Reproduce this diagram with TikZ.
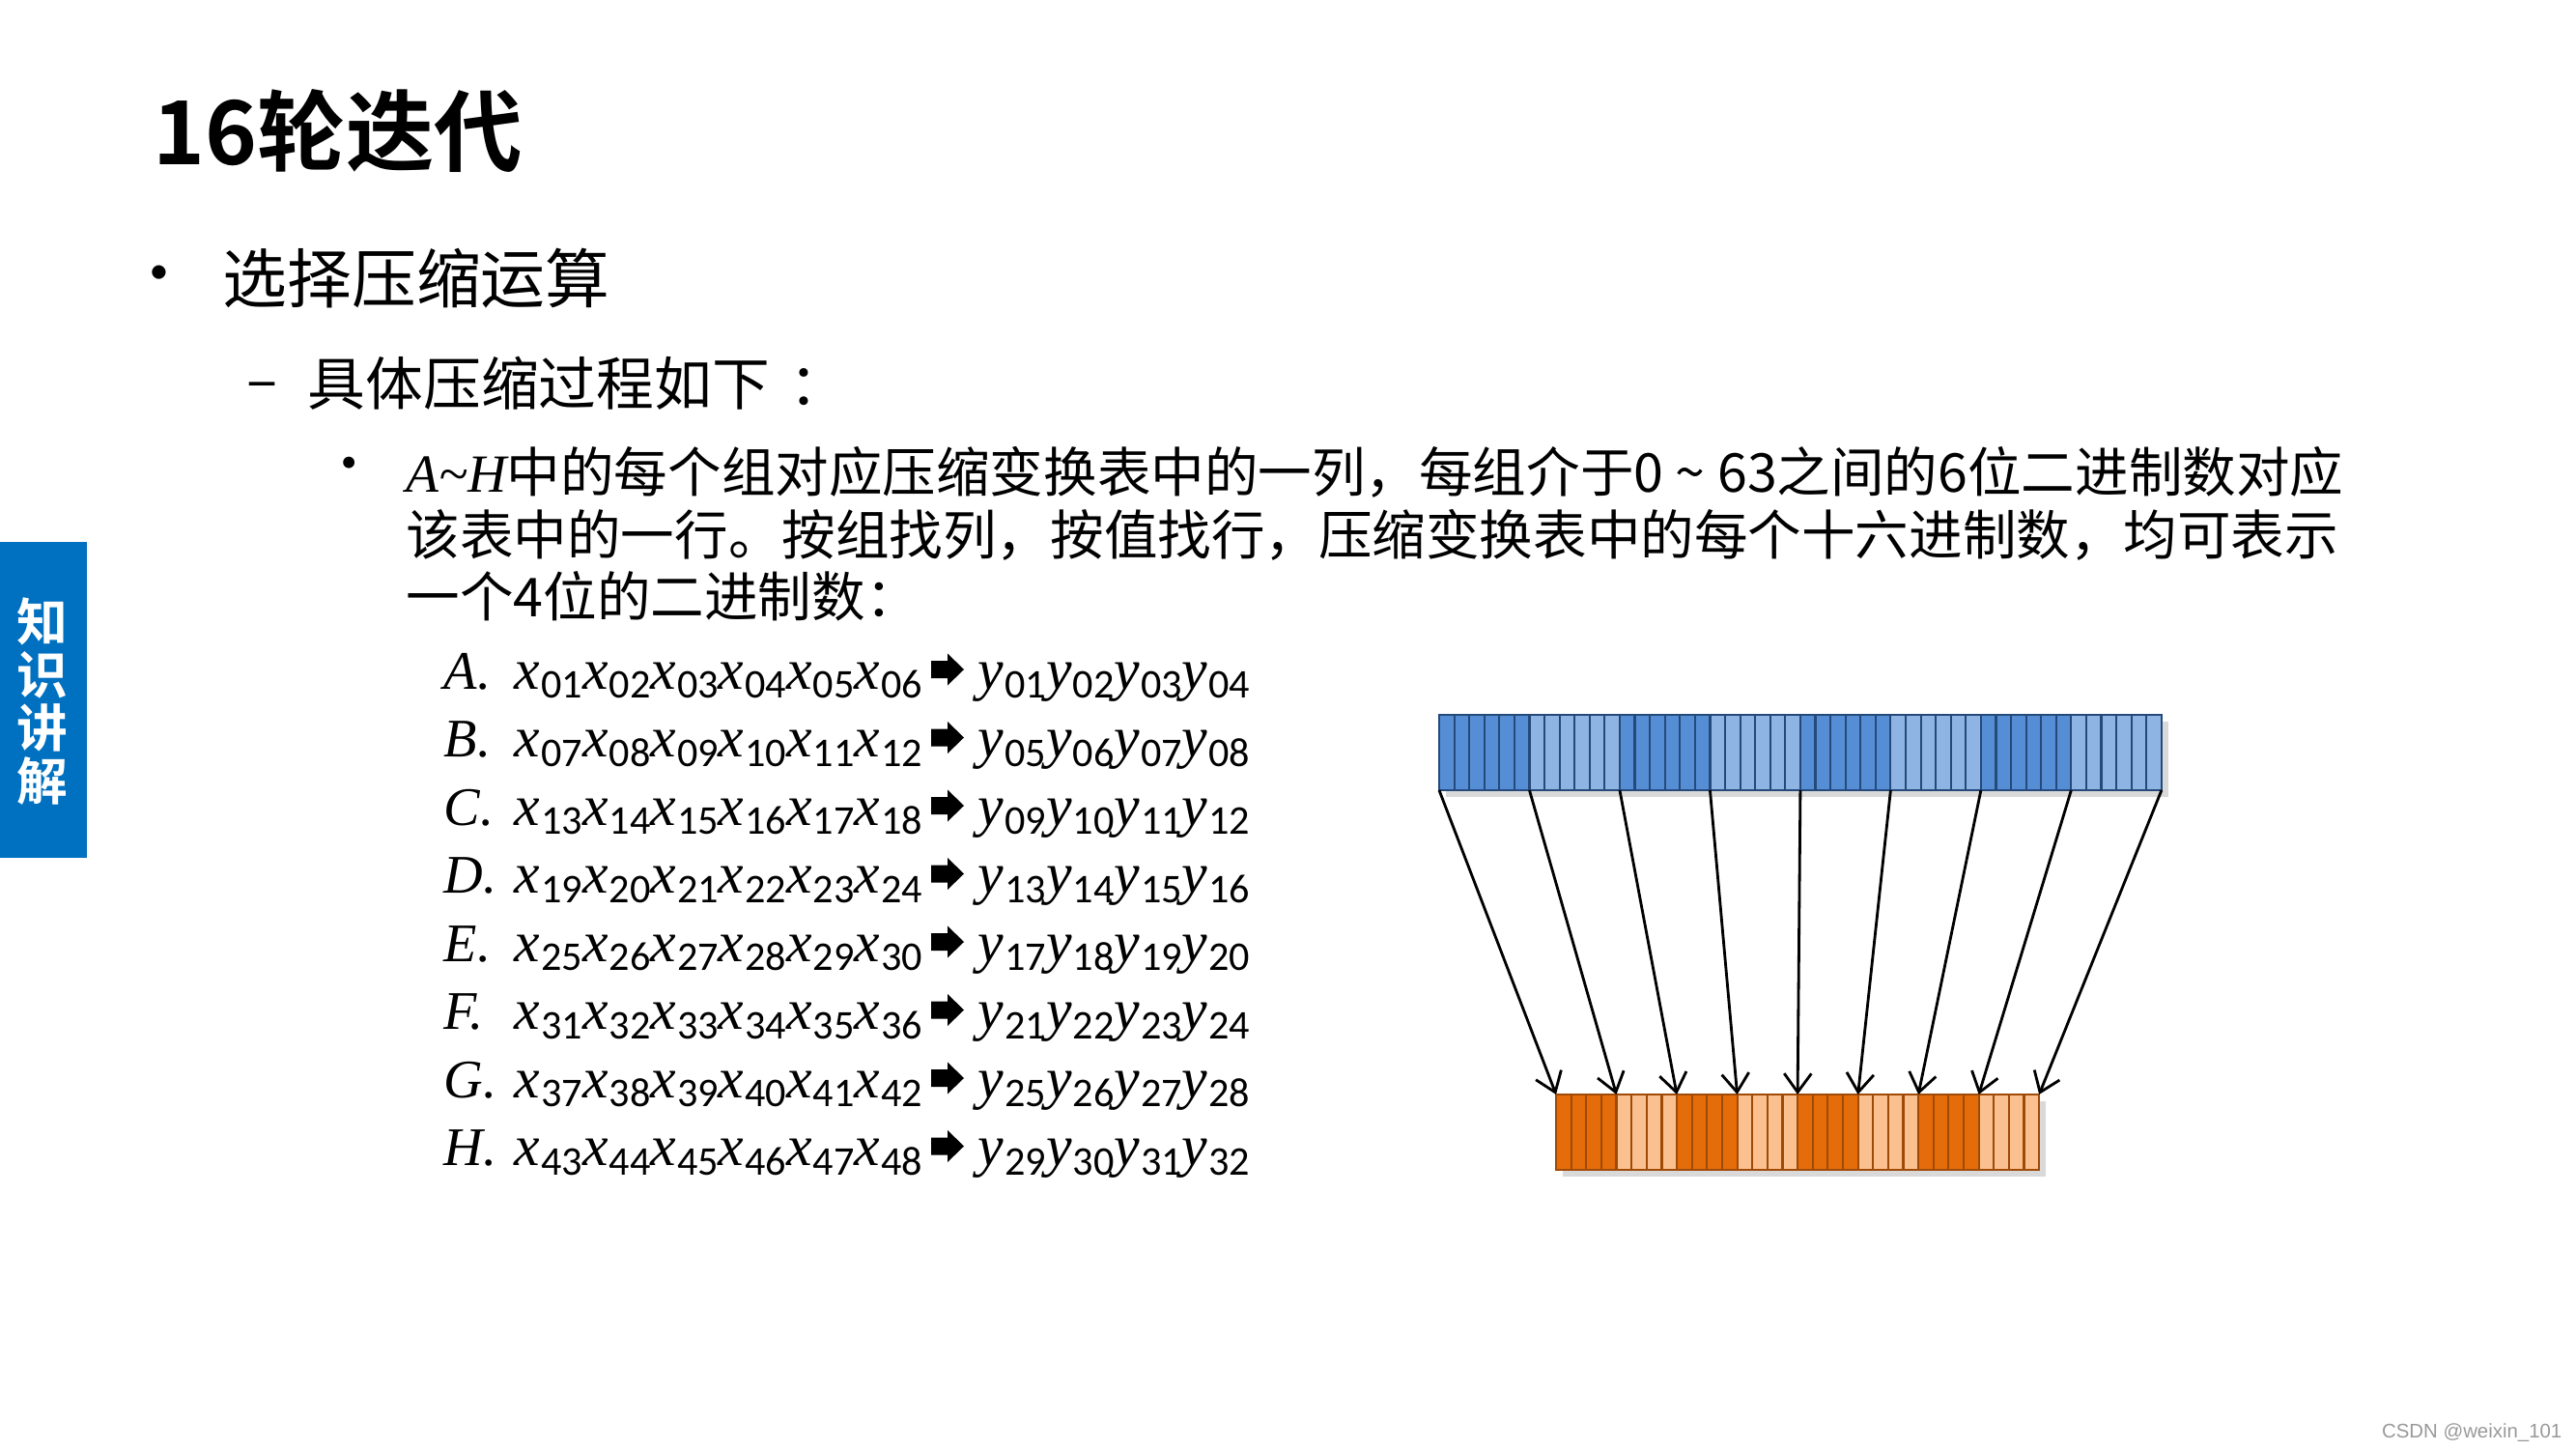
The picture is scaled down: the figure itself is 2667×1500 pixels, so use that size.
\documentclass[tikz,border=0pt]{standalone}
\usepackage[no-math]{fontspec}
\setmainfont{Noto Sans CJK SC}[BoldFont={Noto Sans CJK SC Bold}]
\newfontfamily\serifvar{Liberation Serif}
\newfontfamily\digfont{Carlito}
\newfontfamily\wmfont{Liberation Sans}
\usepackage{xcolor}
\usetikzlibrary{arrows.meta,positioning,calc,fit,backgrounds,shadows}
\definecolor{tabblue}{HTML}{0070C0}
\definecolor{bluedk}{HTML}{558ED5}
\definecolor{bluelt}{HTML}{8DB4E2}
\definecolor{blueln}{HTML}{254A7A}
\definecolor{orgdk}{HTML}{E46C0A}
\definecolor{orglt}{HTML}{FAC090}
\definecolor{orgln}{HTML}{A04A08}
\newcommand\twod[1]{\ifnum#1<10 0\fi#1}
\newcommand\bitv[2]{{\serifvar\itshape\fontsize{17}{19}\selectfont #1}\kern0.3pt\raisebox{-2.8pt}{\digfont\fontsize{12}{12}\selectfont #2}}

\begin{document}
\begin{tikzpicture}[x=0.01cm,y=-0.01cm,>={Straight Barb[length=5.5pt,width=8pt]},
  cell/.style={draw,line width=0.6pt,minimum width=1.56mm,minimum height=7.8mm,inner sep=0pt,outer sep=0pt},
  conn/.style={->,line width=0.8pt},
  txt/.style={anchor=base west,inner sep=0pt},
  row/.style={txt,font=\fontsize{16}{19}\selectfont}]
 \useasboundingbox (0,0) rectangle (2667,1500);
 % side tab
 \fill[tabblue] (0,561) rectangle (90,888);
 \node[white,font=\fontsize{15}{15.6}\selectfont\bfseries,align=center,inner sep=0pt] (tab) at (44,726) {知\\识\\讲\\解};
 % title and bullets
 \node[txt,font=\fontsize{26}{30}\selectfont\bfseries] (title) at (158,171) {16轮迭代};
 \node[inner sep=0pt,font=\fontsize{19}{22}\selectfont] (dot1) at (165,291) {•};
 \node[txt,font=\fontsize{19}{22}\selectfont] (lv1) at (230,314) {选择压缩运算};
 \node[inner sep=0pt,font=\fontsize{17}{20}\selectfont] (dash) at (272,405) {–};
 \node[txt,font=\fontsize{17}{20}\selectfont] (lv2) at (318,419) {具体压缩过程如下\kern0.35em：};
 \node[inner sep=0pt,font=\fontsize{16}{19}\selectfont] (dot3) at (362,487) {•};
 \node[txt,font=\fontsize{15.8}{19}\selectfont] (line1) at (420,509) {{\serifvar\itshape A\textasciitilde H}中的每个组对应压缩变换表中的一列，每组介于0 \textasciitilde{} 63之间的6位二进制数对应};
 \node[txt,font=\fontsize{15.8}{19}\selectfont] (line2) at (420,574) {该表中的一行。按组找列，按值找行，压缩变换表中的每个十六进制数，均可表示};
 \node[txt,font=\fontsize{15.8}{19}\selectfont] (line3) at (420,638) {一个4位的二进制数：};
 % rows A..H
 \foreach \L [count=\r from 0] in {A,B,C,D,E,F,G,H}{
  \node[row,font=\serifvar\itshape\fontsize{16}{19}\selectfont] (lbl\r) at (459,{713+70.5*\r}) {\L.};
  \node[row] (xs\r) at (532,{713+70.5*\r}) {\foreach \k in {1,...,6}{\pgfmathtruncatemacro\n{6*\r+\k}\bitv{x}{\twod{\n}}}};
  \fill[shift={(981,{693+70.5*\r})}] (-17,-9) -- (0,-9) -- (0,-16.5) -- (17,0) -- (0,16.5) -- (0,9) -- (-17,9) -- cycle;
  \node[row] (ys\r) at (1012,{713+70.5*\r}) {\foreach \k in {1,...,4}{\pgfmathtruncatemacro\n{4*\r+\k}\bitv{y}{\twod{\n}}}};
 }
 % 48 input bits
 \foreach \i in {1,...,48}{
  \pgfmathtruncatemacro\g{(\i-1)/6}
  \ifodd\g \def\cc{bluelt}\else\def\cc{bluedk}\fi
  \node[cell,draw=blueln,fill=\cc] (b\i) at ({1490+(\i-0.5)*15.58},779) {};
 }
 % 32 output bits
 \foreach \i in {1,...,32}{
  \pgfmathtruncatemacro\g{(\i-1)/4}
  \ifodd\g \def\cc{orglt}\else\def\cc{orgdk}\fi
  \node[cell,draw=orgln,fill=\cc] (o\i) at ({1611+(\i-0.5)*15.63},1172) {};
 }
 \begin{scope}[on background layer]
  \node[fit=(b1)(b48),inner sep=0pt,fill=white,drop shadow={opacity=0.3,shadow xshift=2pt,shadow yshift=-2pt}] (bluebar) {};
  \node[fit=(o1)(o32),inner sep=0pt,fill=white,drop shadow={opacity=0.3,shadow xshift=2pt,shadow yshift=-2pt}] (orgbar) {};
 \end{scope}
 % S-box arrows
 \foreach \k in {0,...,7}{
  \pgfmathtruncatemacro\bi{6*\k+1} \pgfmathtruncatemacro\oi{4*\k+1}
  \draw[conn] (b\bi.south west) -- (o\oi.north west);
 }
 \draw[conn] (b48.south east) -- (o32.north east);
 \node[anchor=base east,inner sep=0pt,text=black!40,font=\wmfont\fontsize{5.8}{7}\selectfont] (wm) at (2653,1488) {CSDN @weixin\_101};
\end{tikzpicture}
\end{document}
